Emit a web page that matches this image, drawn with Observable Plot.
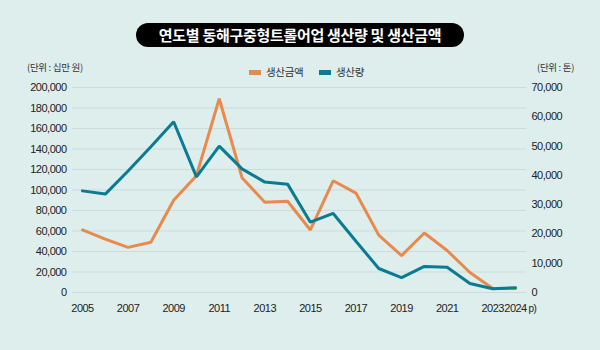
<!DOCTYPE html>
<html><head><meta charset="utf-8">
<script src="https://cdn.jsdelivr.net/npm/d3@7"></script>
<script src="https://cdn.jsdelivr.net/npm/@observablehq/plot@0.6"></script>
<style>
body{margin:0;background:#deeeed;}
#wrap{position:relative;width:600px;height:350px;background:#deeeed;overflow:hidden;font-family:"Noto Sans CJK KR","Noto Sans",sans-serif;}
#chart{position:absolute;left:0;top:0;}
#chart svg text{letter-spacing:-0.5px;}
#title{position:absolute;left:136px;top:23px;width:328px;height:24px;border-radius:12px;background:#000;color:#fff;font-size:15px;font-weight:700;line-height:24px;text-align:center;letter-spacing:-0.3px;}
.unit{position:absolute;top:60px;font-size:9.5px;line-height:14px;color:#333;letter-spacing:-0.3px;white-space:nowrap;}
.sw{position:absolute;top:70px;width:12px;height:5px;}
.lt{position:absolute;top:65px;font-size:10.5px;line-height:14px;color:#333;white-space:nowrap;letter-spacing:-0.3px;}
</style></head>
<body>
<div id="wrap">
  <div id="chart"></div>
  <div id="title"></div>
  <div class="unit" id="unitL" style="left:27px"></div>
  <div class="unit" id="unitR" style="left:537px"></div>
  <div class="sw" id="sw0" style="left:249px"></div>
  <div class="lt" id="lt0" style="left:266px"></div>
  <div class="sw" id="sw1" style="left:319px"></div>
  <div class="lt" id="lt1" style="left:336px"></div>
</div>
<script>
const titleText = "연도별 동해구중형트롤어업 생산량 및 생산금액";
const unitLeft = "(단위 : 십만 원)";
const unitRight = "(단위 : 톤)";
const seriesNames = ["생산금액", "생산량"];
const seriesColors = ["#e88a4c", "#0a7b93"];

const years = [2005,2006,2007,2008,2009,2010,2011,2012,2013,2014,2015,2016,2017,2018,2019,2020,2021,2022,2023,2024];
const amount = [61000,52000,44000,49000,90000,114000,189000,112000,88000,89000,61000,109000,97000,56000,36000,58000,41000,19500,4000,4000];
const volume = [34700,33600,41500,49800,58300,39500,50000,42200,37700,37000,24000,27000,17500,8200,5100,8900,8600,3100,1300,1600];

const leftTicks = [0,20000,40000,60000,80000,100000,120000,140000,160000,180000,200000];
const rightTicks = [0,10000,20000,30000,40000,50000,60000,70000];
const xTicks = [2005,2007,2009,2011,2013,2015,2017,2019,2021,2023,2024];
const lastSuffix = "p)";

const k = 200000 / 70000;
const fmt = d3.format(",");

document.getElementById("title").textContent = titleText;
document.getElementById("unitL").textContent = unitLeft;
document.getElementById("unitR").textContent = unitRight;
seriesNames.forEach((n, i) => {
  document.getElementById("lt" + i).textContent = n;
  document.getElementById("sw" + i).style.background = seriesColors[i];
});

const amountData = years.map((y, i) => ({year: y, v: amount[i]}));
const volumeData = years.map((y, i) => ({year: y, v: volume[i] * k}));

const chart = Plot.plot({
  width: 600,
  height: 350,
  marginTop: 87,
  marginBottom: 58,
  marginLeft: 72,
  marginRight: 74,
  style: {background: "transparent", fontFamily: "'Liberation Sans', Arial, sans-serif", fontSize: "11px", color: "#222"},
  x: {domain: [2005, 2024], insetLeft: 10, insetRight: 11},
  y: {domain: [0, 200000]},
  marks: [
    Plot.gridY(leftTicks, {stroke: "#c8dddc", strokeOpacity: 1, strokeWidth: 1}),
    Plot.axisY(leftTicks, {anchor: "left", tickSize: 0, tickPadding: 6, tickFormat: fmt, fill: "#222", label: null}),
    Plot.axisY(rightTicks.map(d => d * k), {anchor: "right", tickSize: 0, tickPadding: 5, tickFormat: d => fmt(Math.round(d / k)), fill: "#222", label: null}),
    Plot.axisX(xTicks, {anchor: "bottom", tickSize: 0, tickPadding: 12, tickFormat: d => String(d), fill: "#222", label: null}),
    Plot.text([lastSuffix], {x: [years[years.length - 1]], frameAnchor: "bottom", text: d => d, dx: 13, dy: 19, textAnchor: "start", fontSize: 10, fill: "#222"}),
    Plot.line(amountData, {x: "year", y: "v", stroke: seriesColors[0], strokeWidth: 3, strokeLinejoin: "miter"}),
    Plot.line(volumeData, {x: "year", y: "v", stroke: seriesColors[1], strokeWidth: 3, strokeLinejoin: "miter"})
  ]
});
document.getElementById("chart").appendChild(chart);
</script>
</body></html>
